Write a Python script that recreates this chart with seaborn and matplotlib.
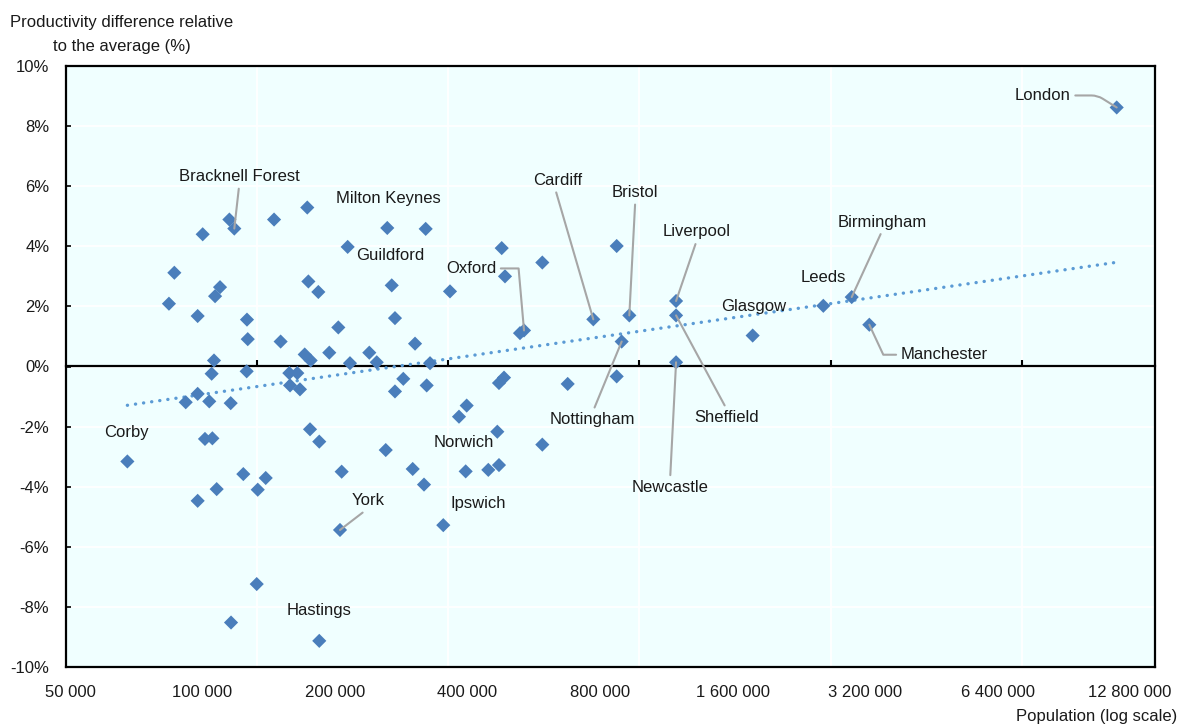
import numpy as np
import pandas as pd
import matplotlib
matplotlib.use("Agg")
import matplotlib.pyplot as plt
import seaborn as sns
from matplotlib.ticker import FixedLocator, FuncFormatter, NullLocator, NullFormatter

# ---------------------------------------------------------------------------
# Data: functional urban areas, population and productivity gap vs. average (%)
# ---------------------------------------------------------------------------
places = [
    "London", "Birmingham", "Leeds", "Manchester", "Glasgow", "Liverpool",
    "Sheffield", "Newcastle", "Bristol", "Nottingham", "Cardiff", "Oxford",
    "Guildford", "Milton Keynes", "Bracknell Forest", "Norwich", "Ipswich",
    "York", "Hastings", "Corby",
] + [""] * 71

population = [
    11940000, 2985000, 2573000, 3273000, 1778000, 1191000,
    1191000, 1191000, 932600, 896100, 772500, 537600,
    213700, 262900, 118100, 396200, 352400,
    205300, 184200, 67500,
    # other urban areas
    115100, 100100, 145400, 173000, 86300, 83900, 109600, 106800, 174000, 183300,
    97500, 126200, 126700, 150500, 203500, 194100, 170700, 176100, 216300, 106200,
    104900, 126000, 157500, 164200, 158100, 166500, 97500, 91600, 103600, 115900,
    175500, 184200, 101300, 105300, 123800, 139200, 107700, 133500, 97500, 207100,
    132800, 116100, 321400, 478400, 591600, 486700, 269100, 365000, 273700, 526400,
    304000, 239300, 248800, 328800, 285900, 273700, 323100, 471600, 484200, 675600,
    873000, 873000, 398300, 382600, 260800, 467500, 591600, 300300, 318600, 446000,
    471600,
]

productivity = [
    8.62, 2.31, 2.02, 1.39, 1.03, 2.18,
    1.70, 0.14, 1.70, 0.83, 1.57, 1.20,
    3.98, 4.61, 4.59, -3.49, -5.28,
    -5.44, -9.13, -3.16,
    # other urban areas
    4.89, 4.40, 4.89, 5.29, 3.12, 2.09, 2.64, 2.34, 2.83, 2.48,
    1.68, 1.56, 0.91, 0.83, 1.30, 0.46, 0.40, 0.20, 0.11, 0.20,
    -0.24, -0.16, -0.22, -0.22, -0.63, -0.76, -0.91, -1.19, -1.16, -1.22,
    -2.09, -2.50, -2.41, -2.39, -3.58, -3.71, -4.08, -4.10, -4.47, -3.50,
    -7.24, -8.52, 4.58, 3.94, 3.46, 3.00, 2.70, 2.50, 1.61, 1.11,
    0.76, 0.46, 0.14, 0.11, -0.41, -0.83, -0.63, -0.55, -0.37, -0.58,
    -0.33, 4.01, -1.30, -1.67, -2.78, -2.17, -2.60, -3.41, -3.93, -3.44,
    -3.28,
]

x_tick_values = [50000 * 2 ** k for k in range(9)]
y_tick_values = list(range(-10, 11, 2))

# ---------------------------------------------------------------------------
# Layout of the city labels: offset of the text centre from the point (pixels),
# anchor of the leader line on the text box (None = no leader), connector shape
# ---------------------------------------------------------------------------
label_layout = [
    ("London", -74, 12, (1, 0.5), "angle,angleA=0,angleB=-32,rad=6"),
    ("Birmingham", 31, 75, (0.5, 0), None),
    ("Leeds", 0, 28, None, None),
    ("Manchester", 75, -30, (0, 0.5), "angle,angleA=180,angleB=-65,rad=0"),
    ("Glasgow", 1, 29, None, None),
    ("Liverpool", 21, 69, (0.5, 0), None),
    ("Sheffield", 51, -102, (0.5, 1), None),
    ("Newcastle", -6, -125, (0.5, 1), None),
    ("Bristol", 6, 123, (0.5, 0), None),
    ("Nottingham", -29, -78, (0.5, 1), None),
    ("Cardiff", -36, 139, (0.45, 0), None),
    ("Oxford", -53, 62, (1, 0.5), "angle,angleA=0,angleB=95,rad=0"),
    ("Guildford", 43, -9, None, None),
    ("Milton Keynes", 1, 29, None, None),
    ("Bracknell Forest", 5, 52, (0.5, 0), None),
    ("Norwich", -2, 29, None, None),
    ("Ipswich", 35, 22, None, None),
    ("York", 28, 29, (0.5, 0), None),
    ("Hastings", 0, 30, None, None),
    ("Corby", -1, 29, None, None),
]

POINT_COLOR = "#4A7EBB"
TREND_COLOR = "#5B9BD5"
LEADER_COLOR = "#A6A6A6"
PANEL_COLOR = "#F0FFFF"
TEXT_COLOR = "#1A1A1A"

sns.set_theme(style="white")
plt.rcParams["font.family"] = ["Liberation Sans", "DejaVu Sans"]
plt.rcParams["text.color"] = TEXT_COLOR
plt.rcParams["xtick.color"] = TEXT_COLOR
plt.rcParams["ytick.color"] = TEXT_COLOR

df = pd.DataFrame({"place": places, "population": population,
                   "productivity": productivity})

W, H = 1180, 726
fig = plt.figure(figsize=(W / 100, H / 100), dpi=100)
ax = fig.add_axes([66 / W, 1 - 667 / H, (1155 - 66) / W, (667 - 66) / H])
ax.set_facecolor(PANEL_COLOR)

# log-linear trend line
sns.regplot(data=df, x="population", y="productivity", logx=True,
            scatter=False, ci=None, ax=ax,
            line_kws=dict(color=TREND_COLOR, lw=2.4, ls=(0, (0.05, 2.4)),
                          dash_capstyle="round", zorder=3))

# the urban areas
sns.scatterplot(data=df, x="population", y="productivity", marker="D",
                s=52, color=POINT_COLOR, edgecolor="none", zorder=4, ax=ax,
                legend=False)

x_left = 50000 * 2 ** (-4 / 132.5)
x_right = 12800000 * 2 ** (25 / 132.5)
ax.set_xscale("log")
ax.set_xlim(x_left, x_right)
ax.set_ylim(-10, 10)
ax.set_xlabel("")
ax.set_ylabel("")

# axis ticks and labels
ax.xaxis.set_major_locator(FixedLocator(x_tick_values))
ax.xaxis.set_major_formatter(FuncFormatter(lambda v, _: f"{int(round(v)):,}".replace(",", " ")))
grid_x = [x_left * np.e ** k for k in range(1, 6)]
ax.xaxis.set_minor_locator(FixedLocator(grid_x))
ax.xaxis.set_minor_formatter(NullFormatter())
ax.tick_params(axis="x", which="both", length=0, pad=13, labelsize=12)
ax.yaxis.set_major_locator(FixedLocator(y_tick_values))
ax.yaxis.set_minor_locator(NullLocator())
ax.yaxis.set_major_formatter(FuncFormatter(lambda v, _: f"{v:g}%"))
ax.tick_params(axis="y", which="major", direction="in", length=3.5, width=1.2,
               pad=12, left=True, labelsize=12, color="black")

# white grid on the pale panel
ax.set_axisbelow(True)
ax.yaxis.grid(True, color="white", lw=1.3)
ax.xaxis.grid(True, which="minor", color="white", lw=1.3)
ax.xaxis.grid(False, which="major")

for side in ["left", "right", "top", "bottom"]:
    ax.spines[side].set_visible(True)
    ax.spines[side].set_color("black")
    ax.spines[side].set_linewidth(1.6)

# zero line with small upward tick marks
zero_axis = ax.secondary_xaxis(0.5)
zero_axis.set_xticks(grid_x)
zero_axis.tick_params(axis="x", which="major", direction="out", length=4.5,
                      width=1.5, color="black", labeltop=False,
                      labelbottom=False)
zero_axis.tick_params(axis="x", which="minor", length=0, labeltop=False,
                      labelbottom=False)
for sp in zero_axis.spines.values():
    sp.set_color("black")
    sp.set_linewidth(1.6)
zero_axis.set_zorder(2)

# city labels with leader lines
for name, dx, dy, relpos, conn in label_layout:
    i = places.index(name)
    arrow = None
    if relpos is not None:
        arrow = dict(arrowstyle="-", color=LEADER_COLOR, lw=1.5, relpos=relpos,
                     shrinkA=1, shrinkB=0,
                     connectionstyle=conn if conn else "arc3")
    ax.annotate(name, xy=(population[i], productivity[i]), xytext=(dx, dy),
                textcoords="offset pixels", ha="center", va="center",
                fontsize=12, color=TEXT_COLOR, arrowprops=arrow, zorder=5)

# axis titles
fig.text(122 / W, 1 - 22 / H, "Productivity difference relative",
         ha="center", va="center", fontsize=12)
fig.text(122 / W, 1 - 46 / H, "to the average (%)",
         ha="center", va="center", fontsize=12)
fig.text(1177 / W, 1 - 717 / H, "Population (log scale)",
         ha="right", va="center", fontsize=12)

fig.savefig("out.png", dpi=100, facecolor="white")
